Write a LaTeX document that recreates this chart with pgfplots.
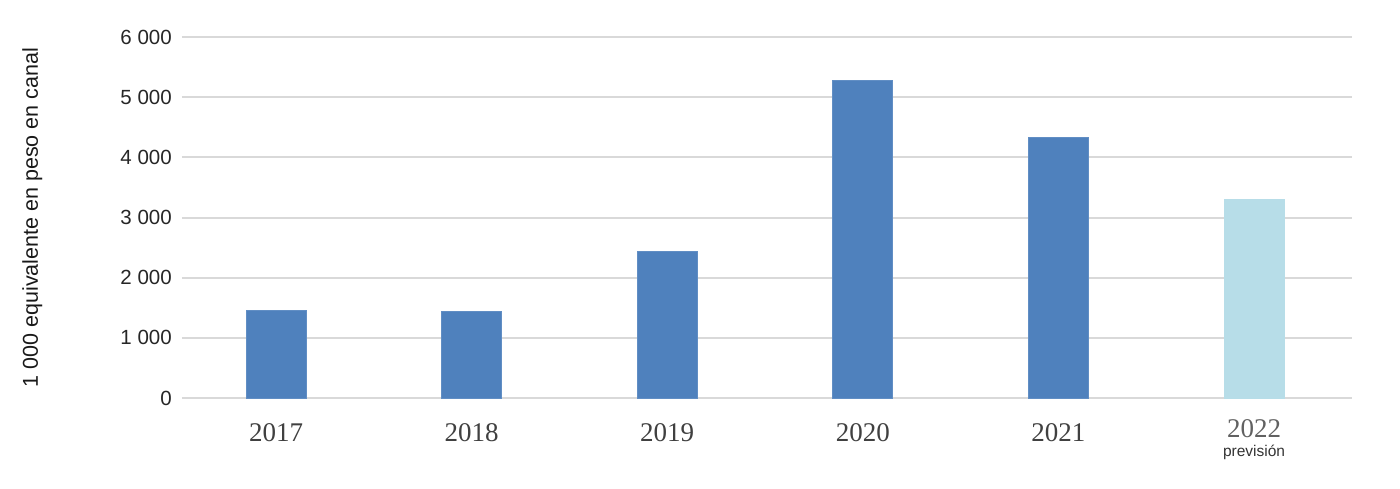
\documentclass[border=0pt]{standalone}
\usepackage{fontspec}
\setmainfont{Liberation Serif}
\setsansfont{Liberation Sans}
\usepackage{pgfplots}
\pgfplotsset{compat=1.18}

\definecolor{barblue}{HTML}{4F81BD}
\definecolor{barlight}{HTML}{B7DDE8}
\definecolor{gridgray}{HTML}{D9D9D9}
\definecolor{labgray}{HTML}{404040}

\begin{document}
\begin{tikzpicture}
\useasboundingbox (0,0) rectangle (1400pt,488pt);
\begin{axis}[
    at={(182pt,90pt)}, anchor=south west,
    scale only axis,
    width=1170pt, height=361pt,
    xmin=-0.4806, xmax=5.501,
    ymin=0, ymax=6000,
    ytick={0,1000,2000,3000,4000,5000,6000},
    xtick={0,1,2,3,4,5},
    xticklabels={2017,2018,2019,2020,2021,{\raisebox{4pt}[18pt]{\color{black!62}2022}\\[-12pt]{\fontsize{15.5}{16}\sffamily\color{black!80}previsión}}},
    ymajorgrids=true,
    major grid style={draw=gridgray, line width=2pt},
    axis line style={draw=none},
    tick style={draw=none},
    /pgf/number format/.cd, 1000 sep={\ }, assume math mode=true, /pgfplots/.cd,
    yticklabel style={font=\fontsize{20.5}{22}\sffamily, text=black!85, inner sep=0pt, anchor=east, xshift=-10pt},
    xticklabel style={font=\fontsize{27}{27}\selectfont, text=labgray, inner sep=0pt, anchor=north, yshift=-21pt, align=center},
    ylabel={1 000 equivalente en peso en canal},
    ylabel style={font=\fontsize{21.5}{23}\sffamily, text=black!90, at={(axis description cs:-0.128,0.5)}, anchor=center},
    ybar, bar width=60pt, bar shift=0pt,
]
\addplot[fill=barblue, draw=barblue!90!white, line width=0.8pt] coordinates {
    (0,1452) (1,1434) (2,2443) (3,5285) (4,4333)
};
\addplot[fill=barlight, draw=barlight, line width=0.8pt] coordinates {
    (5,3302)
};
\end{axis}
\end{tikzpicture}
\end{document}
